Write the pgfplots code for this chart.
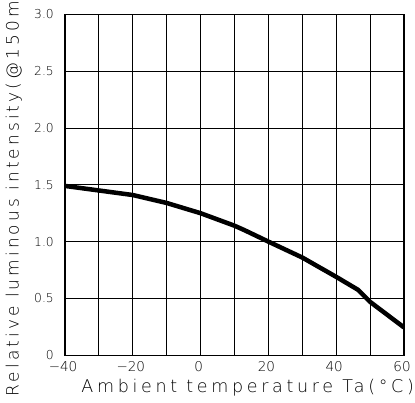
\documentclass[border=0pt]{standalone}
\usepackage{fontspec}
\usepackage{pgfplots}
\pgfplotsset{compat=1.18}
\usetikzlibrary{calc}
\setmainfont{DejaVu Sans}
\newfontfamily\labfont[LetterSpace=21]{DejaVu Sans ExtraLight}
\newfontfamily\ylabfont[LetterSpace=18]{DejaVu Sans ExtraLight}
\newfontfamily\tickfont{DejaVu Sans ExtraLight}
\begin{document}
\begin{tikzpicture}
\begin{axis}[
 name=ax,
 scale only axis,
 width=339pt, height=341pt,
 xmin=-40, xmax=60, ymin=0, ymax=3,
 xtick={-40,-20,0,20,40,60},
 xticklabels={−40,−20,0,20,40,60},
 minor xtick={-30,-10,10,30,50},
 ytick={0,0.5,1,1.5,2,2.5,3},
 yticklabels={0,0.5,1.0,1.5,2.0,2.5,3.0},
 grid=both,
 major grid style={black, line width=0.9pt},
 minor grid style={black, line width=0.9pt},
 major tick length=0pt, minor tick length=0pt,
 axis line style={black, line width=1.1pt},
 xticklabel style={font=\fontsize{13.5}{14}\tickfont, anchor=north, inner sep=0pt, yshift=-6pt, xshift=-2pt},
 yticklabel style={font=\fontsize{12.3}{13}\tickfont, anchor=east, inner sep=0pt, xshift=-11pt},
 xlabel={Ambient temperature Ta(°C)},
 ylabel={Relative luminous intensity(@150mA)},
 xlabel style={font=\fontsize{17.5}{19}\labfont, at={(axis description cs:1.03,-0.11)}, anchor=base east, inner sep=0pt},
 ylabel style={font=\fontsize{17}{19}\ylabfont, at={(axis description cs:-0.137,-0.121)}, anchor=base west, inner sep=0pt},
]
\addplot[black, line width=4.5pt, line join=round] coordinates {
(-40,1.49) (-30,1.45) (-20,1.41) (-10,1.34) (0,1.25) (10,1.14) (13,1.10)
(20,1.00) (30,0.86) (40,0.69) (46.5,0.575) (50,0.47) (60,0.245)
};
\end{axis}
\pgfresetboundingbox
\path[use as bounding box] ($(ax.south west)+(-65pt,-47.7pt)$) rectangle ($(ax.north east)+(11pt,14.3pt)$);
\end{tikzpicture}
\end{document}
